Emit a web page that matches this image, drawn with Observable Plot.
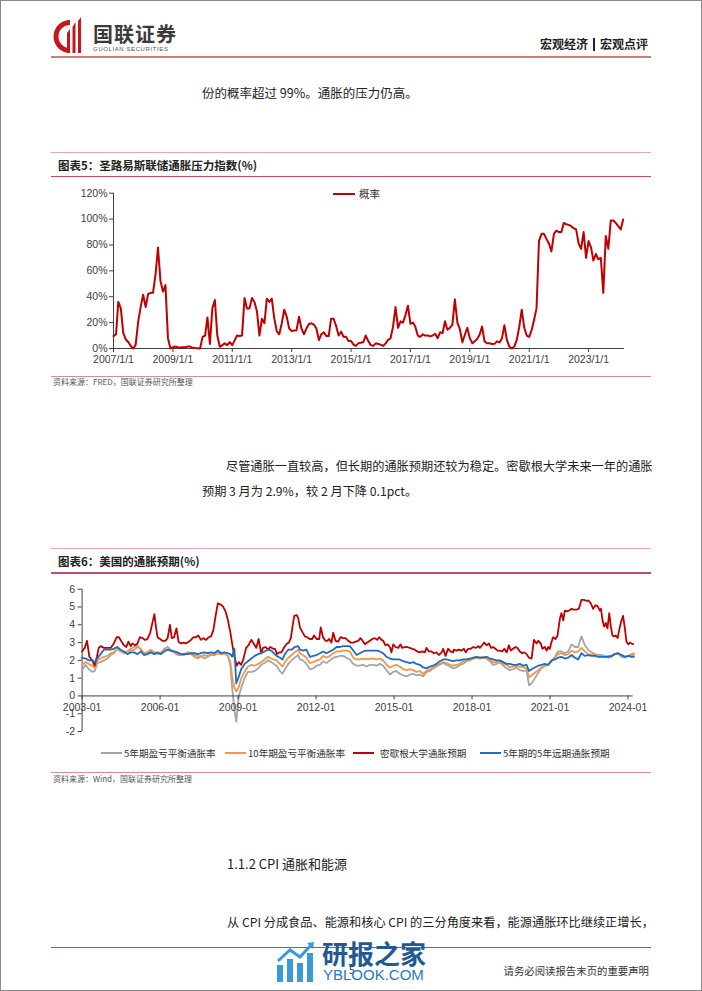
<!DOCTYPE html>
<html><head><meta charset="utf-8">
<script src="https://cdn.jsdelivr.net/npm/d3@7"></script>
<script src="https://cdn.jsdelivr.net/npm/@observablehq/plot@0.6"></script>
<style>
html,body{margin:0;padding:0;background:#fff;}
#page{position:relative;width:702px;height:991px;box-sizing:border-box;border:1px solid #8a8a8a;overflow:hidden;font-family:"Noto Sans CJK SC","Noto Sans",sans-serif;color:#222;background:#fff;}
.t{position:absolute;white-space:nowrap;}
.hr{position:absolute;left:50px;width:600px;}
.chart{position:absolute;left:50px;}
.lg{position:absolute;height:2px;}
</style></head>
<body><div id="page">
<svg width="34" height="38" viewBox="0 0 34 38" style="position:absolute;left:52px;top:16px">
 <path d="M17 3 A16.5 16.5 0 0 0 17 36 L17 31 A11.5 11.5 0 0 1 17 8 Z" fill="#C8161D"/>
 <path d="M14 36 L14 16 L17 12 L17 36 Z" fill="#C8161D"/>
 <path d="M19.5 36 L19.5 10 L22.5 5 L22.5 36 Z" fill="#C8161D"/>
 <path d="M25 36 L25 4 L28 0 L28 36 Z" fill="#C8161D"/>
</svg>
<div class="t" style="left:92px;top:21px;font-size:20px;line-height:24px;font-weight:700;color:#3a3a3a;letter-spacing:1px;">国联证券</div>
<div class="t" style="left:92px;top:43.5px;font-size:6px;line-height:8px;color:#555;letter-spacing:0.6px;font-family:'Liberation Sans',Arial,sans-serif;">GUOLIAN SECURITIES</div>
<div class="t" style="right:53px;top:35px;font-size:12px;line-height:16px;font-weight:700;color:#222;">宏观经济<span style="display:inline-block;width:2px;height:13px;background:#222;margin:0 5px;vertical-align:-2px;"></span>宏观点评</div>
<div class="hr" style="top:55px;height:2px;background:#D27C80;"></div>

<div class="t" style="left:201px;top:82px;font-size:12.5px;line-height:20px;">份的概率超过 99%。通胀的压力仍高。</div>

<div class="hr" style="top:150.5px;height:1.5px;background:#E7A5B8;"></div>
<div class="t" style="left:57px;top:157px;font-size:11.5px;line-height:14px;font-weight:700;">图表5：圣路易斯联储通胀压力指数(%)</div>
<div class="hr" style="top:174.5px;height:1.5px;background:#C64B6A;"></div>
<div id="c5" class="chart" style="top:180px;"></div>
<div class="lg" style="left:332px;top:192px;width:22px;background:#C00000;"></div>
<div class="t" style="left:358px;top:186px;font-size:10.5px;line-height:14px;color:#333;">概率</div>
<div class="hr" style="top:374.5px;height:1.2px;background:#D9899E;"></div>
<div class="t" style="left:52px;top:376px;font-size:8px;line-height:10px;color:#555;">资料来源：FRED，国联证券研究所整理</div>

<div class="t" style="left:225px;top:452.5px;font-size:12.2px;line-height:25px;">尽管通胀一直较高，但长期的通胀预期还较为稳定。密歇根大学未来一年的通胀</div>
<div class="t" style="left:201px;top:477.5px;font-size:12.2px;line-height:25px;">预期 3 月为 2.9%，较 2 月下降 0.1pct。</div>

<div class="hr" style="top:546.5px;height:1.5px;background:#E7A5B8;"></div>
<div class="t" style="left:57px;top:553px;font-size:11.5px;line-height:14px;font-weight:700;">图表6：美国的通胀预期(%)</div>
<div class="hr" style="top:571px;height:1.5px;background:#C64B6A;"></div>
<div id="c6" class="chart" style="top:578px;"></div>
<div id="lg6"></div>
<div class="hr" style="top:770.5px;height:1.2px;background:#D9899E;"></div>
<div class="t" style="left:52px;top:773px;font-size:8px;line-height:10px;color:#555;">资料来源：Wind，国联证券研究所整理</div>

<div class="t" style="left:226px;top:854px;font-size:13px;line-height:18px;">1.1.2 CPI 通胀和能源</div>
<div class="t" style="left:226px;top:908.5px;font-size:12.2px;line-height:25px;">从 CPI 分成食品、能源和核心 CPI 的三分角度来看，能源通胀环比继续正增长，</div>
<div class="hr" style="top:945.5px;height:1px;background:#E23B3B;"></div>
<svg width="40" height="42" viewBox="0 0 40 42" style="position:absolute;left:275px;top:940px">
 <rect x="1" y="24" width="6" height="17" fill="#3A9AD9"/>
 <rect x="11" y="18" width="6" height="23" fill="#3A9AD9"/>
 <rect x="21" y="22" width="6" height="19" fill="#3A9AD9"/>
 <rect x="31" y="12" width="6" height="29" fill="#3A9AD9"/>
 <path d="M2 20 L14 9 L24 16 L36 3" stroke="#3A9AD9" stroke-width="3" fill="none"/>
 <path d="M31 2 L38 1 L37 8 Z" fill="#3A9AD9"/>
</svg>
<div class="t" style="left:321px;top:936px;font-size:26px;line-height:32px;font-weight:700;color:#1F5A94;">研报之家</div>
<div class="t" style="left:348px;top:962px;font-size:10px;line-height:14px;color:#333;">5</div>
<div class="t" style="left:322px;top:965px;font-size:15px;line-height:18px;color:#2A78B8;font-family:'Liberation Sans',Arial,sans-serif;">YBLOOK.COM</div>
<div class="t" style="right:52px;top:963px;font-size:10.4px;line-height:14px;color:#333;">请务必阅读报告末页的重要声明</div>
</div>
<script>
// ---------- Chart 5: St. Louis Fed price pressure probability (%), monthly from 2007-01 ----------
const probVals = [
 9.6,11,36,31,12,7,5,2,0,3,21,32,
 41.5,32,42,43,43,57,78,52,44,49,8,0,
 1,1.5,1,0.8,1,1,1.5,1.5,0.5,0.3,0.2,0,
 9,10,24,3.5,31,37.5,10,1.3,2.6,4,2.6,5,
 2.6,6.5,10,9.6,10,39,31,31,39,36,28.5,10,
 23,19.5,38.5,36,38.5,23,13.5,11,19.5,30,24.5,15.5,
 13.5,14,14,24.5,15.5,11,15.5,19,19.5,18.5,15.5,6.5,
 11,12.5,9.6,9.6,23,23,17.5,10,13,9,9,5.7,
 5.7,3,2,4,4.5,5,10,5.7,2.6,2,4,3.5,
 3,2,4,6.7,7.8,17,32,16,21,20,26,33,
 19,20,17,10,9,11,10,10,9.4,10,11.4,8,
 12.5,12,21,14.5,16,18.5,38,20,15,4.7,10.6,16,
 8,4,5.5,7.3,10.6,17,5.5,4,4,3.4,3.6,5.5,
 4.7,8,18,6.7,1.5,0,1.5,6.7,17,30,16,10,
 9,14.5,22,31,83,88.6,88.6,84.7,81,75,88.6,91,
 90,90,97,96,95.5,94.5,93,92,81,77,90,70,
 83,78,68,73,69,70,43,87,77,99,99,97,
 94.5,92,99.7
];
const probStartYear = 2007;
const probTickYears = [2007,2009,2011,2013,2015,2017,2019,2021,2023];
const probTicks = [0,20,40,60,80,100,120];
const probLegend = "概率";

// ---------- Chart 6: US inflation expectations (%) ----------
const beiYears = [
 2003.00,2003.13,2003.26,2003.39,2003.49,2003.58,2003.71,2003.84,2003.97,2004.10,2004.22,2004.35,2004.48,2004.61,2004.74,2004.87,
 2005.00,2005.13,2005.26,2005.38,2005.51,2005.64,2005.77,2005.90,2006.03,2006.16,2006.29,2006.41,2006.54,2006.67,2006.80,2006.93,
 2007.06,2007.19,2007.32,2007.45,2007.57,2007.70,2007.83,2007.96,2008.09,2008.22,2008.35,2008.48,2008.61,2008.70,2008.77,2008.86,2008.93,
 2009.03,2009.12,2009.25,2009.38,2009.51,2009.64,2009.77,2009.89,2010.02,2010.15,2010.28,
 2010.48,2010.61,2010.71,2010.80,2010.93,2011.06,2011.18,2011.31,
 2011.38,2011.50,2011.63,2011.76,2011.89,2012.02,2012.15,2012.27,2012.40,2012.53,
 2012.66,2012.79,2012.92,2013.04,2013.17,2013.30,2013.43,2013.56,2013.68,2013.81,
 2013.94,2014.07,2014.20,2014.33,2014.45,2014.58,2014.71,2014.84,2014.97,2015.09,
 2015.22,2015.35,2015.48,2015.61,2015.74,2015.86,2015.99,2016.12,2016.25,2016.38,
 2016.50,2016.63,2016.76,2016.89,2017.02,2017.15,2017.27,
 2017.40,2017.53,2017.66,2017.79,2017.92,2018.05,2018.17,2018.30,2018.43,2018.56,
 2018.69,2018.81,2018.94,2019.07,2019.20,2019.33,2019.46,2019.58,2019.71,2019.84,
 2019.97,2020.10,2020.19,2020.29,
 2020.42,2020.55,2020.67,2020.80,2020.93,2021.06,2021.19,2021.31,2021.44,2021.57,
 2021.70,2021.83,2021.96,2022.08,2022.21,2022.34,2022.47,2022.60,2022.73,2022.85,
 2022.98,2023.11,2023.24,2023.37,2023.49,2023.62,2023.75,2023.88,2024.01,2024.14,
 2024.23
];
const be5Vals = [
 1.45,1.75,1.5,1.35,1.4,1.85,1.9,2.0,2.1,2.3,2.4,2.65,2.5,2.4,2.5,2.65,
 2.75,2.85,2.6,2.35,2.45,2.6,2.45,2.35,2.4,2.65,2.75,2.6,2.45,2.3,2.3,2.3,
 2.45,2.35,2.2,2.1,2.25,2.1,2.2,2.3,2.3,2.4,2.35,2.4,2.25,1.75,0.5,-0.8,-1.45,
 0,0.45,1.0,1.35,1.35,1.4,1.55,1.75,1.85,2.0,1.9,
 1.7,1.4,1.25,1.5,1.8,2.0,2.15,2.3,
 2.05,2.0,1.8,1.5,1.55,1.7,1.75,1.95,1.85,2.0,
 2.15,2.2,2.25,2.25,2.15,2.05,1.8,1.7,1.7,1.75,
 1.65,1.75,1.75,1.7,1.8,1.7,1.45,1.2,1.35,1.4,
 1.25,1.15,1.1,1.2,1.25,1.15,1.2,1.1,1.35,1.4,
 1.55,1.65,1.75,1.85,1.75,1.65,1.55,
 1.6,1.75,1.8,1.95,2.0,2.1,2.15,2.15,2.2,2.1,
 1.95,1.75,1.8,1.9,1.7,1.55,1.45,1.5,1.6,1.45,
 1.4,1.45,0.6,0.7,
 1.0,1.3,1.55,1.7,1.75,1.95,2.2,2.5,2.5,2.4,
 2.5,2.9,2.75,2.75,3.35,2.85,2.6,2.45,2.35,2.3,
 2.3,2.25,2.15,2.2,2.35,2.4,2.2,2.15,2.25,2.35,
 2.4
];
const be10Vals = [
 1.75,1.9,1.8,1.7,1.6,2.0,2.1,2.2,2.25,2.4,2.45,2.65,2.55,2.45,2.5,2.55,
 2.6,2.75,2.65,2.4,2.45,2.55,2.45,2.4,2.45,2.6,2.6,2.55,2.45,2.35,2.35,2.35,
 2.45,2.4,2.3,2.25,2.2,2.3,2.25,2.35,2.3,2.4,2.35,2.4,2.25,1.9,1.1,0.45,0.25,
 0.5,1.0,1.35,1.65,1.75,1.7,1.8,1.9,2.05,2.2,2.1,
 2.0,1.8,1.65,1.9,2.15,2.3,2.45,2.6,
 2.4,2.3,2.15,1.85,1.9,2.0,2.05,2.25,2.15,2.25,
 2.4,2.5,2.5,2.55,2.55,2.5,2.15,2.05,2.05,2.1,
 2.05,2.1,2.1,2.05,2.1,2.0,1.75,1.6,1.7,1.75,
 1.65,1.5,1.45,1.5,1.45,1.35,1.4,1.25,1.4,1.5,
 1.6,1.7,1.8,1.9,1.85,1.75,1.7,
 1.75,1.8,1.95,2.0,2.05,2.1,2.15,2.1,2.15,2.1,
 2.0,1.9,1.9,1.95,1.8,1.75,1.6,1.65,1.7,1.65,
 1.6,1.55,1.05,1.15,
 1.3,1.45,1.6,1.7,1.75,1.95,2.15,2.35,2.4,2.3,
 2.35,2.55,2.45,2.5,2.7,2.5,2.35,2.3,2.3,2.25,
 2.25,2.2,2.25,2.25,2.35,2.35,2.3,2.2,2.25,2.3,
 2.3
];
const fwdVals = [
 2.15,2.1,2.0,2.0,1.9,2.1,2.35,2.6,2.6,2.6,2.65,2.75,2.6,2.5,2.35,2.45,
 2.45,2.35,2.5,2.3,2.35,2.45,2.35,2.45,2.35,2.5,2.6,2.55,2.5,2.45,2.35,2.35,
 2.35,2.4,2.4,2.35,2.4,2.45,2.4,2.45,2.4,2.55,2.4,2.45,2.4,2.35,2.2,2.65,0.7,
 1.1,1.5,1.8,1.95,2.1,2.25,2.35,2.4,2.5,2.6,2.55,
 2.25,2.15,2.05,2.35,2.6,2.6,2.75,2.8,
 2.6,2.55,2.6,2.2,2.25,2.3,2.4,2.5,2.4,2.5,
 2.6,2.75,2.75,2.8,2.8,2.8,2.55,2.3,2.4,2.5,
 2.55,2.55,2.55,2.55,2.5,2.4,2.2,2.1,2.05,2.05,
 2.05,1.95,1.9,1.85,1.9,1.8,1.75,1.6,1.55,1.65,
 1.7,1.8,1.95,2.05,2.05,2.0,1.95,
 2.0,2.0,2.05,2.05,2.1,2.15,2.2,2.15,2.15,2.2,
 2.1,2.05,2.0,2.0,1.9,1.8,1.8,1.75,1.75,1.8,
 1.7,1.75,1.4,1.5,
 1.6,1.7,1.75,1.8,1.75,2.0,2.05,2.15,2.2,2.1,
 2.15,2.3,2.15,2.05,2.4,2.25,2.3,2.25,2.25,2.2,
 2.2,2.2,2.2,2.25,2.35,2.4,2.3,2.2,2.25,2.2,
 2.2
];
const umichYears = [
 2003.00,2003.10,2003.19,2003.28,2003.39,2003.48,2003.57,2003.64,2003.71,2003.84,
 2003.97,2004.10,2004.22,2004.33,2004.42,2004.52,2004.61,2004.70,2004.78,2004.87,
 2004.93,2005.04,2005.13,2005.22,2005.32,2005.42,2005.51,2005.62,2005.71,2005.78,
 2005.84,2005.90,2006.00,2006.09,2006.20,2006.29,2006.38,2006.45,2006.54,2006.63,
 2006.71,2006.80,2006.90,2006.99,2007.10,2007.19,2007.28,2007.38,2007.47,2007.57,
 2007.66,2007.77,2007.87,2007.96,2008.05,2008.13,2008.22,2008.31,2008.41,2008.52,
 2008.61,2008.70,2008.77,2008.86,2008.95,2009.03,2009.12,2009.21,2009.31,2009.40,
 2009.51,2009.60,2009.70,2009.79,2009.89,2009.96,2010.06,2010.15,2010.24,2010.35,
 2010.42,2010.50,2010.58,2010.67,2010.76,2010.86,2010.95,2011.03,2011.09,2011.16,
 2011.25,2011.31,2011.38,2011.47,2011.57,2011.66,2011.76,2011.85,2011.92,2012.02,
 2012.12,2012.18,2012.27,2012.36,2012.43,2012.50,2012.59,2012.66,2012.75,2012.85,
 2012.94,2013.04,2013.13,2013.24,2013.33,2013.43,2013.52,2013.62,2013.71,2013.79,
 2013.88,2013.97,2014.07,2014.16,2014.26,2014.35,2014.43,2014.52,2014.58,2014.67,
 2014.75,2014.84,2014.90,2014.97,2015.06,2015.16,2015.25,2015.31,2015.42,2015.50,
 2015.61,2015.70,2015.80,2015.89,2015.99,2016.08,2016.18,2016.25,2016.34,2016.44,
 2016.53,2016.63,2016.72,2016.83,2016.89,2016.98,2017.08,2017.17,2017.27,
 2017.30,2017.40,2017.49,2017.60,2017.69,2017.76,2017.85,2017.94,2018.05,2018.14,
 2018.24,2018.30,2018.39,2018.47,2018.56,2018.65,2018.73,2018.81,2018.90,2018.98,
 2019.07,2019.16,2019.24,2019.33,2019.42,2019.49,2019.58,2019.67,2019.75,2019.84,
 2019.93,2020.01,2020.10,2020.19,2020.29,2020.38,2020.48,2020.55,2020.64,2020.71,
 2020.80,2020.87,2020.93,2020.99,2021.06,2021.12,2021.21,2021.29,2021.38,2021.44,
 2021.51,2021.57,2021.66,2021.74,2021.83,2021.92,2022.02,2022.11,2022.15,2022.21,
 2022.30,2022.40,2022.49,2022.57,2022.66,2022.75,2022.83,2022.92,2022.96,2023.02,
 2023.08,2023.15,2023.21,2023.28,2023.34,2023.40,2023.47,2023.53,2023.60,2023.66,
 2023.74,2023.81,2023.88,2023.94,2024.01,2024.07,2024.14,2024.20
];
const umichVals = [
 2.5,2.7,3.1,2.2,2.0,1.7,2.2,2.7,2.8,2.7,
 2.7,2.7,2.95,3.3,3.3,3.05,2.85,2.75,3.05,2.8,
 2.95,2.85,2.95,3.3,3.25,3.15,3.2,3.55,4.15,4.6,
 3.9,3.3,3.2,3.1,3.1,3.25,4.0,3.25,3.3,3.8,
 3.05,2.95,3.0,2.95,3.05,3.15,3.3,3.3,3.4,3.15,
 3.25,3.15,3.3,3.35,3.7,4.45,5.2,5.15,5.05,4.75,
 4.25,3.6,2.95,2.2,1.7,1.9,1.75,2.1,2.7,2.85,
 3.15,2.95,2.7,3.2,2.4,2.7,2.75,2.6,2.75,2.65,
 2.65,2.35,2.45,2.45,2.7,2.9,3.0,3.25,3.85,4.5,
 4.55,4.4,3.85,3.6,3.35,3.3,3.2,3.2,3.4,3.2,
 3.2,3.85,3.3,3.1,3.1,3.2,3.0,3.55,3.1,3.05,
 3.3,3.25,3.25,3.1,3.0,3.0,3.05,3.1,3.25,3.1,
 2.9,3.0,3.1,3.2,3.25,3.15,3.3,3.15,3.1,2.85,
 2.9,2.75,2.45,2.9,2.75,2.7,2.9,2.7,2.75,2.75,
 2.7,2.65,2.6,2.5,2.45,2.5,2.45,2.7,2.5,2.5,
 2.4,2.45,2.3,2.45,2.65,2.25,2.65,2.5,2.45,
 2.6,2.55,2.6,2.55,2.65,2.45,2.65,2.65,2.75,2.7,
 2.8,2.7,2.85,3.0,2.85,2.95,2.7,2.75,2.65,2.55,
 2.55,2.5,2.65,2.45,2.85,2.55,2.65,2.75,2.7,2.5,
 2.4,2.45,2.35,2.15,2.1,3.15,2.95,3.1,2.95,2.65,
 2.75,2.55,2.75,2.65,3.05,3.3,3.2,3.4,4.35,4.65,
 4.25,4.8,4.75,4.8,4.9,4.85,4.85,4.9,5.1,5.4,
 5.4,5.35,5.35,5.2,4.9,5.1,5.05,4.8,4.9,4.25,
 3.9,4.1,3.8,4.65,3.9,3.4,3.35,3.4,3.25,3.7,
 4.2,4.5,3.8,3.05,2.9,3.0,2.95,2.9
];
const seriesNames = ["5年期盈亏平衡通胀率","10年期盈亏平衡通胀率","密歇根大学通胀预期","5年期的5年远期通胀预期"];
const seriesColors = ["#A5A5A5","#F79646","#C00000","#1C6DC1"];
const expTickYears = [2003,2006,2009,2012,2015,2018,2021,2024];
const expYTicks = [-2,-1,0,1,2,3,4,5,6];

const axisColor = "#404040";
const fontSans = "'Liberation Sans',Arial,sans-serif";

// ---- Chart 5 ----
const prob = probVals.map((v,i)=>({date:new Date(Date.UTC(probStartYear,i,1)), v}));
const c5 = Plot.plot({
  width:600, height:192, marginLeft:62, marginRight:27, marginTop:11.7, marginBottom:25,
  style:{background:"transparent", fontFamily:fontSans, fontSize:"10.5px", color:axisColor, overflow:"visible"},
  x:{type:"utc", domain:[new Date(Date.UTC(2007,0,1)), new Date(Date.UTC(2024,2,18))],
     ticks:probTickYears.map(y=>new Date(Date.UTC(y,0,1))), tickFormat:d=>`${d.getUTCFullYear()}/1/1`,
     tickSize:4, tickPadding:3, label:null},
  y:{domain:[0,120], ticks:probTicks, tickFormat:d=>d+"%", tickSize:4, tickPadding:2, label:null},
  marks:[
    Plot.ruleX([new Date(Date.UTC(2007,0,1))],{stroke:axisColor}),
    Plot.ruleY([0],{stroke:axisColor}),
    Plot.line(prob,{x:"date", y:"v", stroke:"#C00000", strokeWidth:2})
  ]
});
document.getElementById("c5").append(c5);

// ---- Chart 6 ----
const toRows = (xs, ys) => xs.map((x,i)=>({x, y:ys[i]}));
const lineOpts = (c) => ({x:"x", y:"y", stroke:c, strokeWidth:1.8});
const c6 = Plot.plot({
  width:600, height:160, marginLeft:30.6, marginRight:18.3, marginTop:9.7, marginBottom:8,
  style:{background:"transparent", fontFamily:fontSans, fontSize:"10.5px", color:axisColor, overflow:"visible"},
  x:{domain:[2003,2024.2], axis:null},
  y:{domain:[-2,6], ticks:expYTicks, tickFormat:d=>String(d), tickSize:4, tickPadding:3, label:null},
  marks:[
    Plot.ruleX([2003],{stroke:axisColor}),
    Plot.line(toRows(beiYears, be5Vals), lineOpts(seriesColors[0])),
    Plot.line(toRows(beiYears, be10Vals), lineOpts(seriesColors[1])),
    Plot.line(toRows(umichYears, umichVals), lineOpts(seriesColors[2])),
    Plot.line(toRows(beiYears, fwdVals), lineOpts(seriesColors[3])),
    Plot.ruleY([0],{stroke:axisColor}),
    Plot.ruleX(expTickYears,{x:d=>d, y1:0, y2:-0.22, stroke:axisColor}),
    Plot.text(expTickYears,{x:d=>d, y:0, dy:12, text:d=>`${d}-01`, fill:axisColor, fontSize:10.5})
  ]
});
document.getElementById("c6").append(c6);

// ---- Legend 6 ----
const lgPos = [[100,123],[224,247],[352,379],[479,502]];
const lg6 = document.getElementById("lg6");
seriesNames.forEach((n,i)=>{
  const ln = document.createElement("div");
  ln.className = "lg";
  ln.style.cssText = `left:${lgPos[i][0]}px;top:751px;width:21px;background:${seriesColors[i]};`;
  lg6.append(ln);
  const tx = document.createElement("div");
  tx.className = "t";
  tx.style.cssText = `left:${lgPos[i][1]}px;top:745px;font-size:9.6px;line-height:14px;color:#333;`;
  tx.textContent = n;
  lg6.append(tx);
});
</script>
</body></html>
